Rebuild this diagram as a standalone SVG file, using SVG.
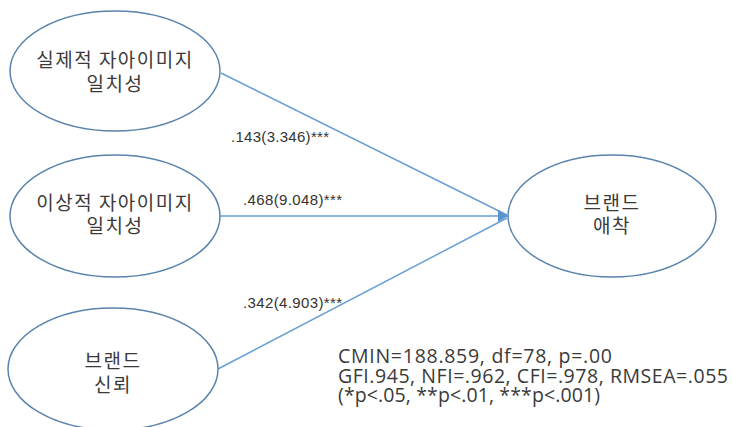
<svg xmlns="http://www.w3.org/2000/svg" width="732" height="427" viewBox="0 0 732 427">
  <style>
    .node ellipse { fill: #ffffff; stroke: #5a84ad; stroke-width: 1.5; }
    .kr { font-family: "Noto Sans CJK KR", "Noto Sans", sans-serif; font-size: 19px; fill: #3a3a3a; text-anchor: middle; letter-spacing: 1.5px; }
    .edge { stroke: #6a9fd3; stroke-width: 1.5; fill: none; }
    .coef { font-family: "Liberation Sans", Arial, sans-serif; font-size: 15px; fill: #333333; }
    .fit { font-family: "Open Sans", "Liberation Sans", sans-serif; font-size: 19.5px; fill: #3a3a3a; }
  </style>
  <defs>
    <marker id="arrow" viewBox="0 0 10 12" refX="10" refY="6" markerWidth="10" markerHeight="12" markerUnits="userSpaceOnUse" orient="auto">
      <path d="M0,0 L10,6 L0,12 z" fill="#5b95cf"/>
    </marker>
  </defs>

  <rect width="732" height="427" fill="#ffffff"/>

  <g id="connectors">
    <line class="edge" x1="221" y1="73" x2="507" y2="215"/>
    <line class="edge" x1="219" y1="216" x2="508" y2="216" marker-end="url(#arrow)"/>
    <line class="edge" x1="218" y1="369" x2="507" y2="218"/>
  </g>

  <g id="node-actual" class="node">
    <ellipse cx="115" cy="71" rx="105" ry="60"/>
    <text class="kr" x="115" y="67">실제적 자아이미지</text>
    <text class="kr" x="115" y="91">일치성</text>
  </g>

  <g id="node-ideal" class="node">
    <ellipse cx="115" cy="216" rx="105" ry="61"/>
    <text class="kr" x="115" y="210">이상적 자아이미지</text>
    <text class="kr" x="115" y="233">일치성</text>
  </g>

  <g id="node-trust" class="node">
    <ellipse cx="113" cy="369" rx="105" ry="61"/>
    <text class="kr" x="113" y="368">브랜드</text>
    <text class="kr" x="113" y="392">신뢰</text>
  </g>

  <g id="node-attachment" class="node">
    <ellipse cx="612" cy="216" rx="104" ry="61"/>
    <text class="kr" x="612" y="210">브랜드</text>
    <text class="kr" x="612" y="233">애착</text>
  </g>

  <g id="coefficients">
    <text class="coef" x="231" y="142" textLength="98" lengthAdjust="spacing">.143(3.346)***</text>
    <text class="coef" x="243" y="205" textLength="99" lengthAdjust="spacing">.468(9.048)***</text>
    <text class="coef" x="243" y="308" textLength="99" lengthAdjust="spacing">.342(4.903)***</text>
  </g>

  <g id="fit-indices">
    <text class="fit" x="338" y="363" textLength="274" lengthAdjust="spacing">CMIN=188.859, df=78, p=.00</text>
    <text class="fit" x="338" y="383" textLength="390" lengthAdjust="spacing">GFI.945, NFI=.962, CFI=.978, RMSEA=.055</text>
    <text class="fit" x="338" y="402" textLength="262" lengthAdjust="spacing">(*p&lt;.05, **p&lt;.01, ***p&lt;.001)</text>
  </g>
</svg>
